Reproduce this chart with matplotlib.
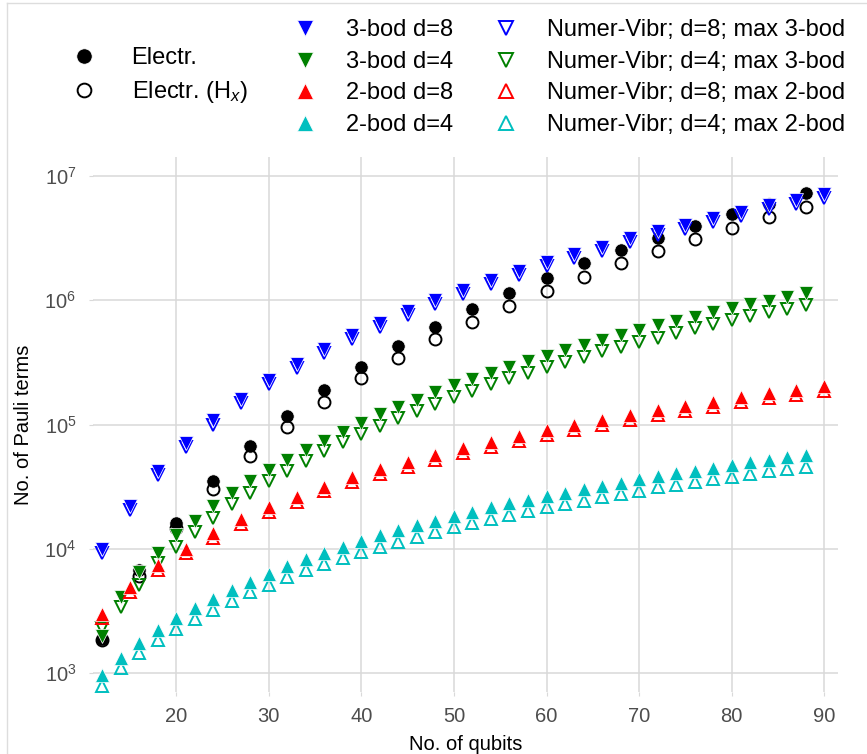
import matplotlib
matplotlib.use("Agg")
import matplotlib.pyplot as plt
from matplotlib.lines import Line2D
from matplotlib.ticker import NullLocator

plt.rcParams['font.family'] = ['Liberation Sans', 'DejaVu Sans']
plt.rcParams['mathtext.fontset'] = 'custom'
plt.rcParams['mathtext.rm'] = 'Liberation Sans'
plt.rcParams['mathtext.it'] = 'Liberation Sans:italic'

# qubit counts
qubits_d8 = [12, 15, 18, 21, 24, 27, 30, 33, 36, 39, 42, 45, 48, 51, 54,
             57, 60, 63, 66, 69, 72, 75, 78, 81, 84, 87, 90]
qubits_d4 = [12, 14, 16, 18, 20, 22, 24, 26, 28, 30, 32, 34, 36, 38, 40,
             42, 44, 46, 48, 50, 52, 54, 56, 58, 60, 62, 64, 66, 68, 70,
             72, 74, 76, 78, 80, 82, 84, 86, 88]
qubits_el = [12, 16, 20, 24, 28, 32, 36, 40, 44, 48, 52, 56, 60, 64, 68,
             72, 76, 80, 84, 88]

# number of Pauli terms
bod3_d8 = [10000, 22000, 42000, 71000, 108000, 160000, 228000, 306000,
           405000, 525000, 660000, 818000, 1000000, 1210000, 1460000,
           1720000, 2030000, 2360000, 2700000, 3160000, 3600000, 4030000,
           4570000, 5160000, 5830000, 6400000, 7160000]
numer_d8_3 = [9300, 20500, 39000, 66000, 100000, 149000, 212000, 285000,
              377000, 488000, 614000, 761000, 930000, 1125000, 1360000,
              1600000, 1890000, 2195000, 2510000, 2940000, 3350000, 3750000,
              4250000, 4800000, 5420000, 5950000, 6660000]
bod3_d4 = [2000, 4100, 6500, 9200, 13000, 16700, 22000, 28000, 35000, 43000,
           51700, 62000, 73500, 87500, 103000, 121000, 139000, 158000,
           181000, 207000, 232000, 261000, 292000, 324000, 357000, 398000,
           436000, 479000, 525000, 575000, 631000, 684000, 737000, 800000,
           860000, 927000, 990000, 1070000, 1140000]
numer_d4_3 = [2300, 3400, 5100, 7650, 10400, 13600, 17800, 22900, 28200,
              35000, 42400, 50700, 61000, 71800, 84500, 97000, 112000,
              128000, 146000, 167000, 187000, 210000, 235000, 261000,
              288000, 320000, 351000, 389000, 422000, 463000, 500000,
              550000, 594000, 645000, 694000, 750000, 797000, 852000, 915000]
bod2_d8 = [3000, 4880, 7380, 10000, 13400, 17200, 21500, 26300, 31600,
           37500, 43700, 50100, 56800, 64400, 72600, 80700, 90200, 98900,
           108000, 119000, 130000, 141000, 152000, 165000, 178000, 189000,
           204000]
numer_d8_2 = [2750, 4500, 6800, 9300, 12300, 15800, 19700, 24000, 29000,
              34200, 40000, 45800, 51700, 58500, 66000, 73500, 82200, 90100,
              99000, 108000, 119000, 129000, 139000, 151000, 162000, 174000,
              187000]
bod2_d4 = [960, 1320, 1760, 2210, 2750, 3310, 3930, 4640, 5420, 6320, 7240,
           8200, 9270, 10400, 11500, 12900, 14100, 15500, 16800, 18300,
           19800, 21500, 23200, 24900, 26500, 28200, 30200, 32100, 33900,
           36100, 38500, 40400, 42400, 44800, 47100, 49500, 51700, 54300,
           56700]
numer_d4_2 = [783, 1100, 1440, 1840, 2240, 2710, 3240, 3800, 4450, 5150,
              5940, 6730, 7590, 8500, 9440, 10400, 11400, 12500, 13600,
              14900, 16000, 17200, 18600, 20100, 21500, 22900, 24300, 25900,
              27500, 29300, 31200, 32500, 34700, 36300, 37900, 39800, 42200,
              43800, 45700]
electr = [1870, 6700, 16200, 35200, 67000, 117000, 189000, 292000, 430000,
          612000, 849000, 1150000, 1520000, 1980000, 2540000, 3180000,
          3960000, 4900000, 5950000, 7240000]
electr_hx = [1850, 6000, 14800, 30000, 56000, 96000, 152000, 235000, 345000,
             488000, 672000, 904000, 1190000, 1550000, 1980000, 2510000,
             3090000, 3790000, 4650000, 5600000]

ms = 9.6
fig = plt.figure(figsize=(8.67, 7.54), dpi=100)
ax = fig.add_axes([0.1073, 0.0822, 0.8593, 0.7096])

# electronic structure
h_el, = ax.plot(qubits_el, electr, 'o', color='black', ms=ms,
                mec='white', mew=0.5, label='Electr.')
h_elx, = ax.plot(qubits_el, electr_hx, 'o', mfc='none', mec='black',
                 ms=ms - 1, mew=1.4, label='Electr. (H$_{x}$)')

# vibrational: open (numerical) first, filled on top
series = [
    (qubits_d8, numer_d8_3, bod3_d8, 'v', 'b', 'd=8', '3'),
    (qubits_d4, numer_d4_3, bod3_d4, 'v', 'g', 'd=4', '3'),
    (qubits_d8, numer_d8_2, bod2_d8, '^', 'r', 'd=8', '2'),
    (qubits_d4, numer_d4_2, bod2_d4, '^', 'c', 'd=4', '2'),
]
filled, hollow = [], []
for xq, yo, yf, mk, col, d, nb in series:
    ho, = ax.plot(xq, yo, mk, mfc='none', mec=col, ms=ms - 1, mew=1.4,
                  label='Numer-Vibr; {}; max {}-bod'.format(d, nb))
    hf, = ax.plot(xq, yf, mk, color=col, ms=ms, mec='white', mew=0.5,
                  label='{}-bod {}'.format(nb, d))
    filled.append(hf)
    hollow.append(ho)

ax.set_yscale('log')
ax.set_xlim(11.0, 91.5)
ax.set_ylim(10 ** 2.847, 10 ** 7.153)
ax.set_xticks([20, 30, 40, 50, 60, 70, 80, 90])
ax.set_yticks([1e3, 1e4, 1e5, 1e6, 1e7])
ax.yaxis.set_minor_locator(NullLocator())
ax.grid(True, color='#d9d9d9', linewidth=1.1)
ax.set_axisbelow(True)
for s in ax.spines.values():
    s.set_visible(False)
ax.tick_params(axis='both', length=3, width=0.8, color='#d9d9d9',
               labelsize=14.5, labelcolor='#4d4d4d')
ax.tick_params(axis='x', pad=8)
ax.tick_params(axis='y', pad=9)
ax.set_xlabel('No. of qubits', fontsize=14.5, labelpad=6)
ax.set_ylabel('No. of Pauli terms', fontsize=14.5, labelpad=8)

leg1 = fig.legend(handles=[h_el, h_elx], loc='center left',
                  bbox_to_anchor=(0.070, 0.899), frameon=False, fontsize=17,
                  handlelength=1.0, handletextpad=1.5, labelspacing=0.45,
                  borderpad=0, markerscale=1.15)
leg2 = fig.legend(handles=filled + hollow, loc='center left', ncol=2,
                  bbox_to_anchor=(0.324, 0.897), frameon=False, fontsize=17,
                  handlelength=1.0, handletextpad=1.25, labelspacing=0.40,
                  columnspacing=1.75, borderpad=0, markerscale=1.15)

# light frame at left and top of the picture
fig.add_artist(Line2D([7 / 867, 7 / 867], [0, 1 - 3 / 754],
                      color='#dddddd', lw=1))
fig.add_artist(Line2D([7 / 867, 1], [1 - 3 / 754, 1 - 3 / 754],
                      color='#dddddd', lw=1))

plt.savefig('out.png', dpi=100)
